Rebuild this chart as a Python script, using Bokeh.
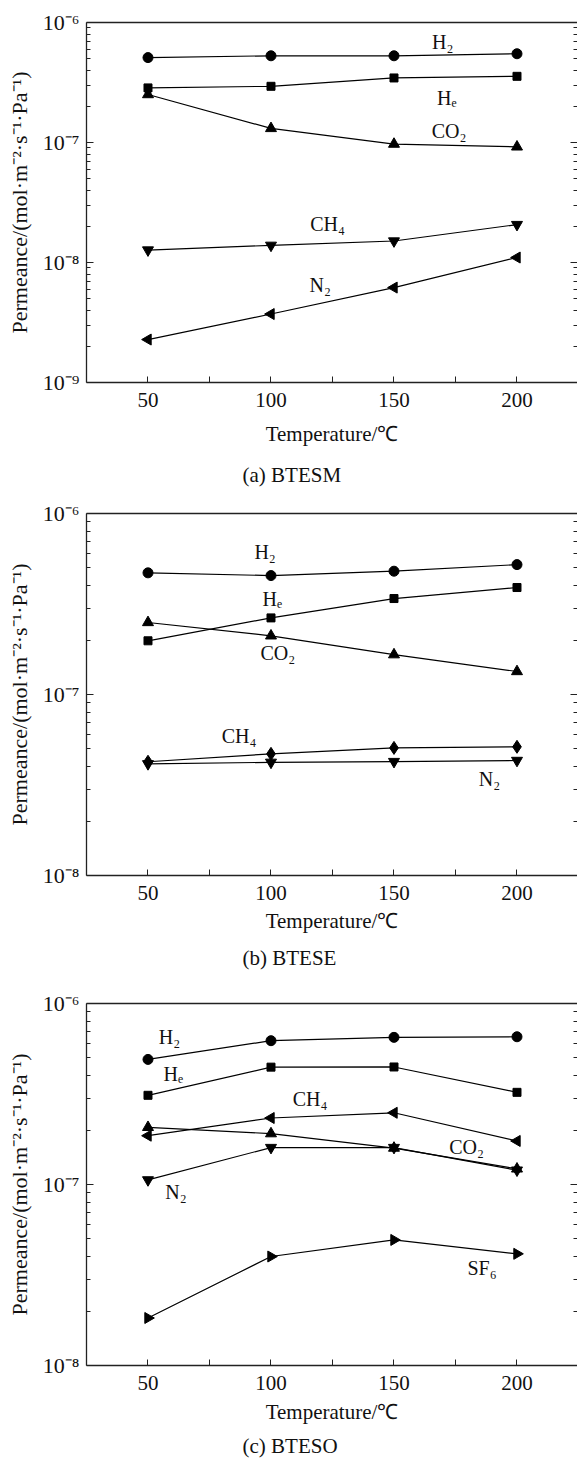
import math
from bokeh.plotting import figure
from bokeh.layouts import column
from bokeh.models import (LogAxis, LinearAxis, FixedTicker, CustomJSTickFormatter, Range1d)
from bokeh.embed import file_html
from bokeh.resources import INLINE
from bokeh.core.properties import value

# ---------------- data ----------------
temps = [50, 100, 150, 200]
x_ticks = [50, 100, 150, 200]
x_minor = [75, 125, 175]
y_exps = [-9, -8, -7, -6]
y_tick_labels = ["10⁻⁹", "10⁻⁸", "10⁻⁷", "10⁻⁶"]

# (a) BTESM
a_h2 = [5.10e-7, 5.28e-7, 5.28e-7, 5.49e-7]
a_he = [2.85e-7, 2.94e-7, 3.45e-7, 3.56e-7]
a_co2 = [2.51e-7, 1.31e-7, 9.7e-8, 9.2e-8]
a_ch4 = [1.27e-8, 1.39e-8, 1.51e-8, 2.07e-8]
a_n2 = [2.28e-9, 3.72e-9, 6.18e-9, 1.10e-8]

# (b) BTESE
b_h2 = [4.70e-7, 4.54e-7, 4.80e-7, 5.22e-7]
b_he = [1.98e-7, 2.65e-7, 3.39e-7, 3.90e-7]
b_co2 = [2.50e-7, 2.11e-7, 1.66e-7, 1.34e-7]
b_ch4 = [4.25e-8, 4.70e-8, 5.07e-8, 5.14e-8]
b_n2 = [4.14e-8, 4.22e-8, 4.26e-8, 4.32e-8]

# (c) BTESO
c_h2 = [4.91e-7, 6.23e-7, 6.50e-7, 6.55e-7]
c_he = [3.11e-7, 4.45e-7, 4.46e-7, 3.23e-7]
c_ch4 = [1.86e-7, 2.33e-7, 2.49e-7, 1.74e-7]
c_co2 = [2.07e-7, 1.91e-7, 1.59e-7, 1.22e-7]
c_n2 = [1.06e-7, 1.60e-7, 1.60e-7, 1.20e-7]
c_sf6 = [1.83e-8, 4.00e-8, 4.94e-8, 4.14e-8]

captions = ["(a) BTESM", "(b) BTESE", "(c) BTESO"]
x_title = "Temperature/℃"
y_title = "Permeance/(mol·m⁻²·s⁻¹·Pa⁻¹)"

FONT = "Liberation Serif"
INK = "#222222"

# marker styles: (marker, size, angle)
CIRCLE = ("circle", 10, 0.0)
SQUARE = ("square", 8, 0.0)
UP = ("triangle", 11, 0.0)
DOWN = ("inverted_triangle", 11, 0.0)
LEFT = ("triangle", 11, math.pi / 2)
RIGHT = ("triangle", 11, -math.pi / 2)
DIAMOND = ("diamond", 13, 0.0)


def make_panel(caption, ymin, series, labels, height, top, bottom, xlab_standoff, cap_standoff):
    p = figure(width=577, height=height,
               x_range=Range1d(25, 224.6), y_range=Range1d(ymin, 1e-6),
               y_axis_type="log", output_backend="svg", toolbar_location=None,
               title=caption, title_location="below",
               min_border_left=86, min_border_right=0, min_border_top=top,
               min_border_bottom=bottom)
    p.grid.visible = False
    p.outline_line_color = None
    p.background_fill_color = None
    p.border_fill_color = None

    # x axis
    xa = p.xaxis[0]
    xa.ticker = FixedTicker(ticks=x_ticks, minor_ticks=x_minor)
    xa.major_tick_in = 6
    xa.major_tick_out = 0
    xa.minor_tick_in = 6
    xa.minor_tick_out = 0
    xa.axis_line_color = INK
    xa.axis_line_width = 1.3
    xa.major_tick_line_color = INK
    xa.minor_tick_line_color = INK
    xa.major_label_text_font = FONT
    xa.major_label_text_font_size = "21px"
    xa.major_label_text_color = "#111111"
    xa.major_label_standoff = 10
    xa.axis_label = x_title
    xa.axis_label_text_font = FONT
    xa.axis_label_text_font_size = "21px"
    xa.axis_label_text_font_style = "normal"
    xa.axis_label_text_color = "#111111"
    xa.axis_label_standoff = xlab_standoff

    # top spine
    ta = LinearAxis(ticker=FixedTicker(ticks=[]),
                    formatter=CustomJSTickFormatter(code="return '';"))
    ta.major_tick_in = 0
    ta.major_tick_out = 0
    ta.minor_tick_in = 0
    ta.minor_tick_out = 0
    ta.major_label_text_font_size = "0px"
    ta.major_label_standoff = 0
    ta.axis_line_color = INK
    ta.axis_line_width = 1.3
    p.add_layout(ta, "above")

    # y ticks
    decades = [10.0 ** e for e in range(int(round(math.log10(ymin))), -5)]
    minors = [m * d for d in decades[:-1] for m in range(2, 10)]
    fmt = CustomJSTickFormatter(args=dict(exps=y_exps, labels=y_tick_labels), code="""
        const e = Math.round(Math.log10(tick));
        const i = exps.indexOf(e);
        return i >= 0 ? labels[i] : '';
    """)
    ya = p.yaxis[0]
    ya.ticker = FixedTicker(ticks=decades, minor_ticks=minors)
    ya.formatter = fmt
    ya.major_tick_in = 7
    ya.major_tick_out = 0
    ya.minor_tick_in = 4
    ya.minor_tick_out = 0
    ya.axis_line_color = INK
    ya.axis_line_width = 1.3
    ya.major_tick_line_color = INK
    ya.minor_tick_line_color = INK
    ya.major_label_text_font = FONT
    ya.major_label_text_font_size = "22px"
    ya.major_label_text_color = "#111111"
    ya.major_label_standoff = 7
    ya.axis_label = y_title
    ya.axis_label_text_font = FONT
    ya.axis_label_text_font_size = "22px"
    ya.axis_label_text_font_style = "normal"
    ya.axis_label_text_color = "#111111"
    ya.axis_label_standoff = 8

    # right-hand ticks (spine itself lies just beyond the picture)
    ra = LogAxis(ticker=FixedTicker(ticks=decades, minor_ticks=minors),
                 formatter=CustomJSTickFormatter(code="return '';"))
    ra.major_tick_in = 7
    ra.major_tick_out = 0
    ra.minor_tick_in = 4
    ra.minor_tick_out = 0
    ra.major_label_text_font_size = "0px"
    ra.major_label_standoff = 0
    ra.axis_line_color = None
    ra.major_tick_line_color = INK
    ra.minor_tick_line_color = INK
    p.add_layout(ra, "right")

    for vals, (mk, sz, ang) in series:
        p.line(temps, vals, line_color="black", line_width=1.2)
    for vals, (mk, sz, ang) in series:
        p.scatter(temps, vals, marker=mk, size=sz, angle=ang,
                  fill_color="black", line_color="black")

    lx = [l[1] for l in labels]
    ly = [l[2] for l in labels]
    lt = [l[0] for l in labels]
    p.text(x=lx, y=ly, text=lt, text_font=value(FONT), text_font_size=value("20px"),
           text_align="center", text_baseline="middle", text_color="#111111")

    p.title.text_font = FONT
    p.title.text_font_size = "21px"
    p.title.text_font_style = "normal"
    p.title.text_color = "#111111"
    p.title.align = "left"
    p.title.offset = 156
    p.title.standoff = cap_standoff
    return p


pa = make_panel(captions[0], 1e-9,
                [(a_h2, CIRCLE), (a_he, SQUARE), (a_co2, UP), (a_ch4, DOWN), (a_n2, LEFT)],
                [("H₂", 169.8, 6.93e-7), ("Hₑ", 171.5, 2.36e-7), ("CO₂", 172.4, 1.25e-7),
                 ("CH₄", 123, 2.11e-8), ("N₂", 120, 6.5e-9)],
                498, 22, 114, 12, 24)
pb = make_panel(captions[1], 1e-8,
                [(b_h2, CIRCLE), (b_he, SQUARE), (b_co2, UP), (b_ch4, DIAMOND), (b_n2, DOWN)],
                [("H₂", 97.6, 6.1e-7), ("Hₑ", 100.5, 3.38e-7), ("CO₂", 102.8, 1.69e-7),
                 ("CH₄", 87, 5.93e-8), ("N₂", 188.8, 3.42e-8)],
                490, 15, 113, 6, 17)
pc = make_panel(captions[2], 1e-8,
                [(c_h2, CIRCLE), (c_he, SQUARE), (c_ch4, LEFT), (c_co2, UP), (c_n2, DOWN), (c_sf6, RIGHT)],
                [("H₂", 58.7, 6.52e-7), ("Hₑ", 60.3, 4.1e-7), ("CH₄", 115.9, 2.98e-7),
                 ("CO₂", 179.5, 1.61e-7), ("N₂", 61.4, 9.14e-8), ("SF₆", 185.8, 3.45e-8)],
                475, 15, 98, 7, 10)

layout = column(pa, pb, pc, spacing=0)
open("out.html", "w").write(file_html(layout, INLINE))
